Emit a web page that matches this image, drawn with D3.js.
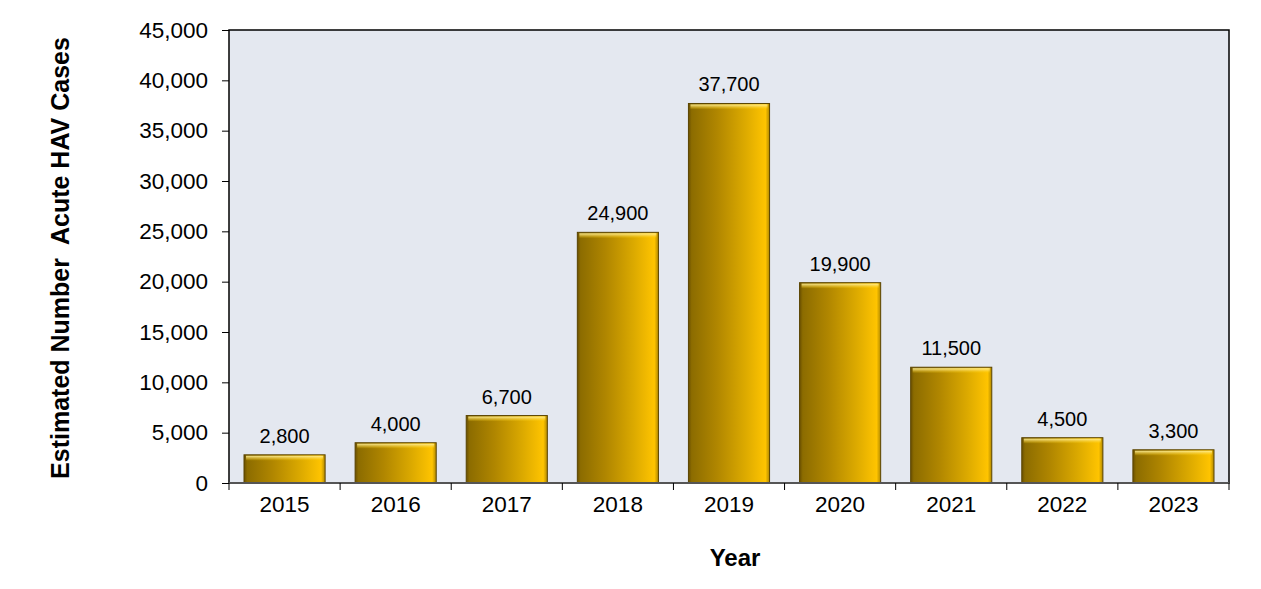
<!DOCTYPE html>
<html><head><meta charset="utf-8">
<script src="https://cdn.jsdelivr.net/npm/d3@7/dist/d3.min.js"></script>
<style>body{margin:0;background:#fff;}svg{display:block;font-family:"Liberation Sans",Arial,sans-serif;}</style>
</head><body>
<svg id="chart" width="1261" height="589"></svg>
<script>
const years = ["2015","2016","2017","2018","2019","2020","2021","2022","2023"];
const cases = [2800,4000,6700,24900,37700,19900,11500,4500,3300];
const yTicks = [0,5000,10000,15000,20000,25000,30000,35000,40000,45000];

const svg = d3.select("#chart");
const m = {left:229, top:30, right:1229, bottom:483};
const x = d3.scaleBand().domain(years).range([m.left,m.right]).paddingInner(0.27).paddingOuter(0.135);
const y = d3.scaleLinear().domain([0,45000]).range([m.bottom,m.top]);
const fmt = d3.format(",");

const defs = svg.append("defs");
const g1 = defs.append("linearGradient").attr("id","barGrad").attr("x1","0").attr("x2","1").attr("y1","0").attr("y2","0");
[[0,"#6a5000"],[0.04,"#8c6c00"],[0.35,"#b08600"],[0.7,"#dcaa00"],[0.95,"#ffc400"],[1,"#b08800"]].forEach(s=>g1.append("stop").attr("offset",s[0]).attr("stop-color",s[1]));
const g2 = defs.append("linearGradient").attr("id","topGrad").attr("x1","0").attr("x2","0").attr("y1","0").attr("y2","1");
[[0,"#fff2a0",0.9],[0.5,"#ffe060",0.5],[1,"#ffd000",0]].forEach(s=>g2.append("stop").attr("offset",s[0]).attr("stop-color",s[1]).attr("stop-opacity",s[2]));

// plot background
svg.append("rect").attr("x",m.left).attr("y",m.top).attr("width",m.right-m.left).attr("height",m.bottom-m.top)
  .attr("fill","#e4e8f0").attr("stroke","#000").attr("stroke-width",1.5);

// bars
const bars = svg.append("g").selectAll("g").data(years).join("g");
bars.append("rect")
  .attr("x",d=>x(d)).attr("y",(d,i)=>y(cases[i]))
  .attr("width",x.bandwidth()).attr("height",(d,i)=>y(0)-y(cases[i]))
  .attr("fill","url(#barGrad)").attr("stroke","#5a4400").attr("stroke-width",1);
bars.append("rect")
  .attr("x",d=>x(d)+2).attr("y",(d,i)=>y(cases[i])+1)
  .attr("width",x.bandwidth()-4).attr("height",5)
  .attr("fill","url(#topGrad)");

// labels
bars.append("text")
  .attr("x",d=>x(d)+x.bandwidth()/2).attr("y",(d,i)=>y(cases[i])-12)
  .attr("text-anchor","middle").attr("font-size",20).attr("fill","#000")
  .text((d,i)=>fmt(cases[i]));

// y axis
const ya = svg.append("g").attr("transform",`translate(${m.left},0)`)
  .call(d3.axisLeft(y).tickValues(yTicks).tickFormat(fmt).tickSize(7).tickPadding(14));
ya.select(".domain").remove();
ya.selectAll("line").attr("stroke","#000").attr("stroke-width",1);
ya.selectAll("text").attr("font-size",22.5).attr("font-family","Liberation Sans, Arial, sans-serif").attr("fill","#000");

// x axis
const xa = svg.append("g").attr("transform",`translate(0,${m.bottom})`);
xa.append("line").attr("x1",m.left).attr("x2",m.right).attr("stroke","#555").attr("stroke-width",2);
const bounds = years.map(d=>x(d)-x.step()*x.paddingInner()/2).concat([m.right]);
xa.selectAll("line.t").data(bounds).join("line").attr("class","t")
  .attr("x1",d=>d).attr("x2",d=>d).attr("y1",0).attr("y2",7).attr("stroke","#000");
xa.selectAll("text").data(years).join("text")
  .attr("x",d=>x(d)+x.bandwidth()/2).attr("y",29)
  .attr("text-anchor","middle").attr("font-size",22.5).attr("fill","#000").text(d=>d);

// titles
svg.append("text").attr("x",735).attr("y",566).attr("text-anchor","middle")
  .attr("font-size",24).attr("font-weight","bold").text("Year");
svg.append("text").attr("transform","translate(69,258) rotate(-90)").attr("text-anchor","middle")
  .attr("font-size",25).attr("font-weight","bold").attr("xml:space","preserve").style("white-space","pre")
  .text("Estimated Number  Acute HAV Cases");
</script>
</body></html>
